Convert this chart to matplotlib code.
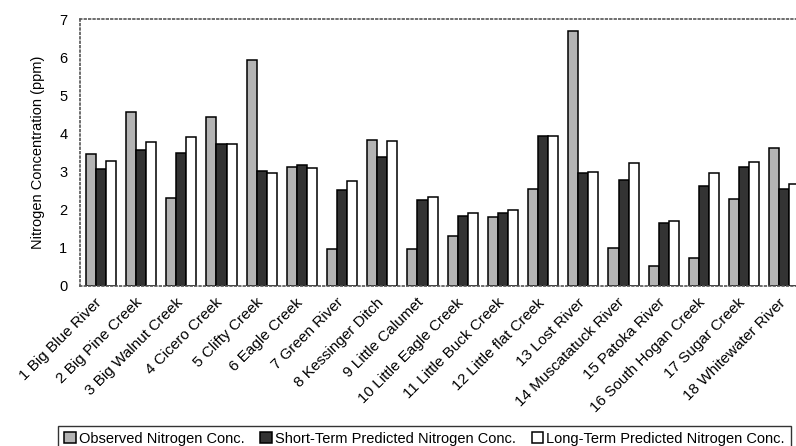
import numpy as np
import matplotlib.pyplot as plt
import matplotlib.transforms as mtransforms

plt.rcParams['font.family'] = ['Liberation Sans', 'DejaVu Sans']

sites = ["1 Big Blue River", "2 Big Pine Creek", "3 Big Walnut Creek", "4 Cicero Creek",
         "5 Clifty Creek", "6 Eagle Creek", "7 Green River", "8 Kessinger Ditch",
         "9 Little Calumet", "10 Little Eagle Creek", "11 Little Buck Creek",
         "12 Little flat Creek", "13 Lost River", "14 Muscatatuck River",
         "15 Patoka River", "16 South Hogan Creek", "17 Sugar Creek", "18 Whitewater River"]
observed = [3.46, 4.56, 2.30, 4.43, 5.93, 3.13, 0.98, 3.83, 0.97, 1.31, 1.82, 2.55,
            6.69, 0.99, 0.51, 0.74, 2.28, 3.63]
short_term = [3.07, 3.57, 3.49, 3.72, 3.02, 3.18, 2.51, 3.39, 2.26, 1.84, 1.92, 3.93,
              2.95, 2.78, 1.64, 2.62, 3.11, 2.53]
long_term = [3.27, 3.77, 3.92, 3.72, 2.97, 3.09, 2.75, 3.79, 2.34, 1.92, 1.98, 3.93,
             2.99, 3.22, 1.69, 2.95, 3.26, 2.68]

x = np.arange(len(sites))
w = 0.25

fig = plt.figure(figsize=(7.96, 4.46), dpi=100)
ax = fig.add_axes([0.1005, 0.359, 0.8995, 0.598])

ax.bar(x - w, observed, w, color='#b4b4b4', edgecolor='black', linewidth=1.1,
       label='Observed Nitrogen Conc.')
ax.bar(x, short_term, w, color='#333333', edgecolor='black', linewidth=1.1,
       label='Short-Term Predicted Nitrogen Conc.')
ax.bar(x + w, long_term, w, color='white', edgecolor='black', linewidth=1.1,
       label='Long-Term Predicted Nitrogen Conc.')

ax.set_xlim(-0.52, 17.29)
ax.set_ylim(0, 7)
ax.set_yticks(range(8))
ax.tick_params(axis='y', length=0, labelsize=10.5, pad=9)
ax.tick_params(axis='x', length=0, pad=7)
ax.set_xticks(x)
ax.set_xticklabels(sites, rotation=45, ha='right', rotation_mode='anchor', fontsize=11)
shift = mtransforms.ScaledTranslation(-6 / 100, 0, fig.dpi_scale_trans)
for lab in ax.get_xticklabels():
    lab.set_transform(lab.get_transform() + shift)
ax.set_ylabel('Nitrogen Concentration (ppm)', fontsize=10.5, labelpad=10)

for s in ['left', 'top', 'bottom']:
    ax.spines[s].set_color('#555555')
    ax.spines[s].set_linestyle(':')
    ax.spines[s].set_linewidth(1.2)
ax.spines['right'].set_visible(False)

leg = fig.legend(loc='lower left', bbox_to_anchor=(0.073, -0.012),
                 ncol=3, fontsize=10.5, frameon=True, fancybox=False,
                 handlelength=0.8, handleheight=0.8, handletextpad=0.2,
                 columnspacing=1.1, borderpad=0.4, borderaxespad=0)
leg.get_frame().set_edgecolor('black')
leg.get_frame().set_linewidth(1.0)

fig.savefig('out.png', dpi=100)
